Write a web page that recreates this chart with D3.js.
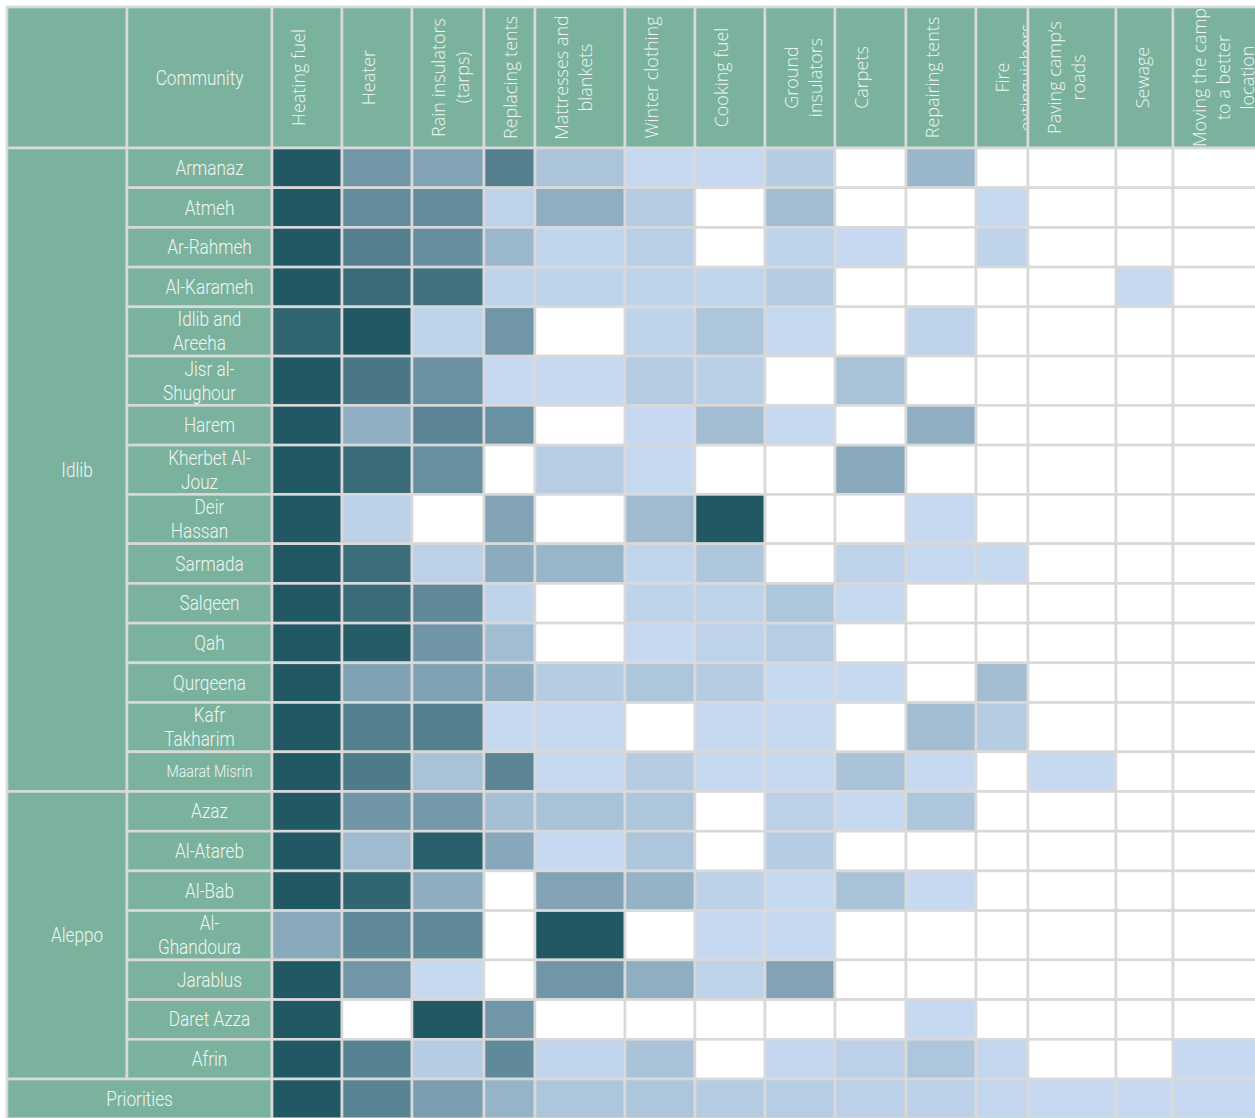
<!DOCTYPE html>
<html>
<head>
<meta charset="utf-8">
<script src="https://cdn.jsdelivr.net/npm/d3@7"></script>
<style>
  body { margin: 0; background: #fff; overflow: hidden; }
  svg { display: block; }
</style>
</head>
<body>
<div id="chart"></div>
<script>
// winter needs by community, shaded by how often each item was named
var needs = ['Heating fuel', 'Heater', 'Rain insulators\n(tarps)', 'Replacing tents',
    'Mattresses and\nblankets', 'Winter clothing', 'Cooking fuel', 'Ground\ninsulators',
    'Carpets', 'Repairing tents', 'Fire\nextinguishers', 'Paving camp’s\nroads',
    'Sewage', 'Moving the camp\nto a better\nlocation']

var governorates = ['Idlib', 'Aleppo']
var governorateSize = [15, 7]

var communities = ['Armanaz', 'Atmeh', 'Ar-Rahmeh', 'Al-Karameh', 'Idlib and\nAreeha',
    'Jisr al-\nShughour', 'Harem', 'Kherbet Al-\nJouz', 'Deir\nHassan', 'Sarmada',
    'Salqeen', 'Qah', 'Qurqeena', 'Kafr\nTakharim', 'Maarat Misrin',
    'Azaz', 'Al-Atareb', 'Al-Bab', 'Al-\nGhandoura', 'Jarablus', 'Daret Azza', 'Afrin']

// null = not mentioned (white cell)
var scores = [
    [100, 52, 42, 70, 16, 0, 0, 10, null, 27, null, null, null, null],
    [100, 60, 60, 5, 33, 10, null, 22, null, null, 0, null, null, null],
    [100, 70, 58, 26, 3, 8, null, 4, 0, null, 4, null, null, null],
    [100, 85, 80, 4, 4, 4, 3, 10, null, null, null, null, 0, null],
    [90, 100, 4, 52, null, 4, 15, 0, null, 4, null, null, null, null],
    [100, 76, 56, 0, 0, 10, 7, null, 18, null, null, null, null, null],
    [100, 33, 65, 56, null, 0, 22, 0, null, 33, null, null, null, null],
    [100, 85, 57, null, 9, 0, null, null, 37, null, null, null, null, null],
    [100, 6, null, 42, null, 23, 100, null, null, 0, null, null, null, null],
    [100, 83, 6, 36, 28, 3, 14, null, 5, 0, 0, null, null, null],
    [100, 85, 62, 4, null, 4, 5, 15, 0, null, null, null, null, null],
    [100, 97, 53, 22, null, 0, 5, 9, null, null, null, null, null, null],
    [100, 43, 43, 36, 10, 15, 10, 0, 0, null, 22, null, null, null],
    [100, 70, 70, 0, 0, null, 0, 0, null, 22, 10, null, null, null],
    [100, 73, 18, 65, 0, 10, 0, 0, 17, 0, null, 0, null, null],
    [100, 53, 50, 20, 18, 15, null, 6, 0, 15, null, null, null, null],
    [100, 23, 95, 38, 0, 15, null, 10, null, null, null, null, null, null],
    [100, 90, 34, null, 42, 30, 6, 0, 18, 0, null, null, null, null],
    [37, 62, 62, null, 100, null, 0, 0, null, null, null, null, null, null],
    [100, 52, 0, null, 52, 33, 5, 42, null, null, null, null, null, null],
    [100, null, 100, 52, null, null, null, null, null, 0, null, null, null, null],
    [100, 68, 10, 62, 3, 17, null, 2, 6, 15, 2, null, null, 0]
]

var priorities = [100, 66, 46, 29, 15, 15, 10, 9, 6, 6, 2, 0, 0, 0]

// layout
var colWidths = [120, 145, 70, 70, 72, 51, 90, 70, 70, 70, 71, 70, 52, 88, 57, 99],
    tableTop = 7, tableLeft = 7,
    headerHeight = 141,
    rowSingle = 39.7, rowDouble = 49.3,
    lineGap = 24

var colors = {
    header: '#7ab29e',
    text: '#f1f6f3',
    grid: '#d9d9d9',
    empty: '#ffffff',
    low: '#c6d9f0',
    high: '#215864'
}

var colX = [tableLeft]
colWidths.forEach(function(w, i) { colX.push(colX[i] + w) })

var rowY = [tableTop + headerHeight]
communities.forEach(function(c, i) {
    rowY.push(rowY[i] + (c.indexOf('\n') > -1 ? rowDouble : rowSingle))
})
var priorityTop = rowY[rowY.length - 1]
rowY.push(priorityTop + rowSingle)

var color = d3.scaleLinear()
    .domain([0, 100])
    .range([colors.low, colors.high])
    .interpolate(d3.interpolateRgb)

var width = 1255, height = 1118

var svg = d3.select('#chart').append('svg')
    .attr('width', width)
    .attr('height', height)

var defs = svg.append('defs')

function cell(g, x, y, w, h, fill) {
    return g.append('rect')
        .attr('x', x).attr('y', y)
        .attr('width', w).attr('height', h)
        .attr('fill', fill)
        .attr('stroke', colors.grid)
        .attr('stroke-width', 2.6)
}

// condensed label, one or more lines centred at (cx, cy)
function label(g, text, cx, cy, size, firstDx) {
    var lines = text.split('\n')
    var t = g.append('text')
        .attr('transform', 'translate(' + cx + ',' + cy + ') scale(0.86,1)')
        .attr('text-anchor', 'middle')
        .attr('font-family', 'Roboto, "Open Sans", sans-serif')
        .attr('font-weight', 300)
        .attr('font-size', size)
        .attr('fill', colors.text)
    lines.forEach(function(line, j) {
        t.append('tspan')
            .attr('x', (j === 0 && lines.length > 1 ? firstDx : 0) / 0.86)
            .attr('y', (j - (lines.length - 1) / 2) * lineGap)
            .attr('dy', '0.35em')
            .text(line)
    })
}

var grid = svg.append('g')

// header row
cell(grid, colX[0], tableTop, colWidths[0], headerHeight, colors.header)
cell(grid, colX[1], tableTop, colWidths[1], headerHeight, colors.header)
label(grid, 'Community', (colX[1] + colX[2]) / 2, tableTop + headerHeight / 2, 20, 0)

needs.forEach(function(need, i) {
    var x0 = colX[i + 2], w = colWidths[i + 2]
    cell(grid, x0, tableTop, w, headerHeight, colors.header)
    defs.append('clipPath').attr('id', 'hc' + i)
        .append('rect')
        .attr('x', x0 + 1.3).attr('y', tableTop + 1.3)
        .attr('width', w - 2.6).attr('height', headerHeight - 2.6)
    var cy = tableTop + headerHeight / 2
    var t = grid.append('g').attr('clip-path', 'url(#hc' + i + ')')
    need.split('\n').forEach(function(line, j) {
        var bx = x0 + 33 + j * lineGap
        t.append('text')
            .attr('x', bx).attr('y', cy)
            .attr('transform', 'rotate(-90,' + bx + ',' + cy + ')')
            .attr('text-anchor', 'middle')
            .attr('font-family', '"Open Sans", Lato, sans-serif')
            .attr('font-weight', 300)
            .attr('font-size', 18)
            .attr('fill', colors.text)
            .text(line)
    })
})

// governorate blocks
var start = 0
governorates.forEach(function(gov, k) {
    var y0 = rowY[start], y1 = rowY[start + governorateSize[k]]
    cell(grid, colX[0], y0, colWidths[0], y1 - y0, colors.header)
    label(grid, gov, (colX[0] + colX[1]) / 2 + 10, (y0 + y1) / 2, 20, 0)
    start += governorateSize[k]
})

// community rows
communities.forEach(function(name, r) {
    var y0 = rowY[r], h = rowY[r + 1] - y0
    cell(grid, colX[1], y0, colWidths[1], h, colors.header)
    var size = name === 'Maarat Misrin' ? 16.5 : 20
    var dx = name.indexOf('\n') > -1 ? 0 : 10
    label(grid, name, (colX[1] + colX[2]) / 2 + dx, y0 + h / 2, size, 10)
    scores[r].forEach(function(v, i) {
        cell(grid, colX[i + 2], y0, colWidths[i + 2], h, v === null ? colors.empty : color(v))
    })
})

// priorities row
var ph = rowY[rowY.length - 1] - priorityTop
cell(grid, colX[0], priorityTop, colX[2] - colX[0], ph, colors.header)
label(grid, 'Priorities', (colX[0] + colX[2]) / 2, priorityTop + ph / 2, 20, 0)
priorities.forEach(function(v, i) {
    cell(grid, colX[i + 2], priorityTop, colWidths[i + 2], ph, v === null ? colors.empty : color(v))
})
</script>
</body>
</html>
